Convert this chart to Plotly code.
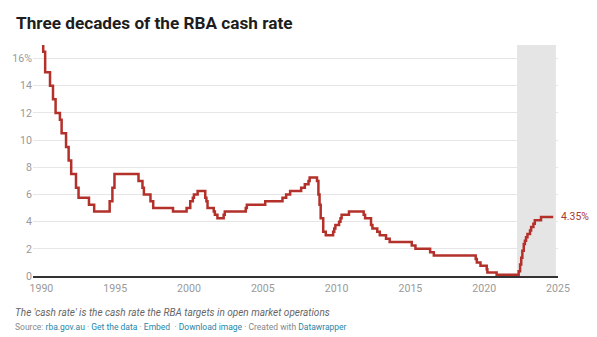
import plotly.graph_objects as go

# RBA cash rate target: date of each change and the new rate (%)
change_dates = [
    "1990-01-23", "1990-02-15", "1990-04-04", "1990-08-02", "1990-10-15", "1990-12-18",
    "1991-04-04", "1991-05-16", "1991-09-03", "1991-11-06", "1992-01-08", "1992-05-06",
    "1992-07-08", "1993-03-23", "1993-07-30", "1994-08-17", "1994-10-24", "1994-12-14",
    "1996-07-31", "1996-11-06", "1996-12-11", "1997-05-23", "1997-07-30", "1998-12-02",
    "1999-11-03", "2000-02-02", "2000-04-05", "2000-05-03", "2000-08-02", "2001-02-07",
    "2001-03-07", "2001-04-04", "2001-09-05", "2001-10-03", "2001-12-05", "2002-05-08",
    "2002-06-05", "2003-11-05", "2003-12-03", "2005-03-02", "2006-05-03", "2006-08-02",
    "2006-11-08", "2007-08-08", "2007-11-07", "2008-02-06", "2008-03-05", "2008-09-03",
    "2008-10-08", "2008-11-05", "2008-12-03", "2009-02-04", "2009-04-08", "2009-10-07",
    "2009-11-04", "2009-12-02", "2010-03-03", "2010-04-07", "2010-05-05", "2010-11-03",
    "2011-11-02", "2011-12-07", "2012-05-02", "2012-06-06", "2012-10-03", "2012-12-05",
    "2013-05-08", "2013-08-07", "2015-02-04", "2015-05-06", "2016-05-04", "2016-08-03",
    "2019-06-05", "2019-07-03", "2019-10-02", "2020-03-04", "2020-03-20", "2020-11-04",
    "2022-05-04", "2022-06-08", "2022-07-06", "2022-08-03", "2022-09-07", "2022-10-05",
    "2022-11-02", "2022-12-07", "2023-02-08", "2023-03-08", "2023-05-03", "2023-06-07",
    "2023-11-08", "2024-09-05",
]
cash_rate = [
    17.0, 16.5, 15.0, 14.0, 13.0, 12.0,
    11.5, 10.5, 9.5, 8.5, 7.5, 6.5,
    5.75, 5.25, 4.75, 5.5, 6.5, 7.5,
    7.0, 6.5, 6.0, 5.5, 5.0, 4.75,
    5.0, 5.5, 5.75, 6.0, 6.25, 5.75,
    5.5, 5.0, 4.75, 4.5, 4.25, 4.5,
    4.75, 5.0, 5.25, 5.5, 5.75, 6.0,
    6.25, 6.5, 6.75, 7.0, 7.25, 7.0,
    6.0, 5.25, 4.25, 3.25, 3.0, 3.25,
    3.5, 3.75, 4.0, 4.25, 4.5, 4.75,
    4.5, 4.25, 3.75, 3.5, 3.25, 3.0,
    2.75, 2.5, 2.25, 2.0, 1.75, 1.5,
    1.25, 1.0, 0.75, 0.5, 0.25, 0.10,
    0.35, 0.85, 1.35, 1.85, 2.35, 2.60,
    2.85, 3.10, 3.35, 3.60, 3.85, 4.10,
    4.35, 4.35,
]

year_ticks = [1990, 1995, 2000, 2005, 2010, 2015, 2020, 2025]
rate_ticks = [0, 2, 4, 6, 8, 10, 12, 14, 16]
rate_tick_labels = ["0", "2", "4", "6", "8", "10", "12", "14", "16%"]

highlight_start = "2022-03-25"
highlight_end = "2024-11-10"

W, H = 597, 337
ML, MR, MT, MB = 30, 39, 45, 61
PW, PH = W - ML - MR, H - MT - MB

def px_x(x):
    return (x - ML) / PW

def px_y(y):
    return (H - MB - y) / PH

RED = "#b3312a"
NARROW = "Liberation Sans Narrow, Roboto, sans-serif"

fig = go.Figure()
fig.add_trace(go.Scatter(
    x=change_dates, y=cash_rate, mode="lines", line_shape="hv",
    line=dict(color=RED, width=2.5), hoverinfo="skip", showlegend=False,
))

fig.add_shape(type="rect", xref="x", yref="paper",
              x0=highlight_start, x1=highlight_end, y0=0, y1=1,
              fillcolor="#e5e5e5", line_width=0, layer="between")

fig.add_annotation(x=px_x(559.5), y=cash_rate[-1], xref="paper", yref="y",
                   text=f"{cash_rate[-1]:.2f}%", showarrow=False,
                   xanchor="left", yanchor="middle",
                   font=dict(family=NARROW, size=10.4, color="#a8372d"))

fig.add_annotation(x=px_x(10.5), y=px_y(22.5), xref="paper", yref="paper",
                   text="<b>Three decades of the RBA cash rate</b>", showarrow=False,
                   xanchor="left", yanchor="middle",
                   font=dict(family="Roboto", size=17.2, color="#1d1d1d"))

fig.add_annotation(x=px_x(10), y=px_y(312.5), xref="paper", yref="paper",
                   text="<i>The 'cash rate' is the cash rate the RBA targets in open market operations</i>",
                   showarrow=False, xanchor="left", yanchor="middle",
                   font=dict(family=NARROW, size=10, color="#666666"))

LINK = "#1f87a8"
sep = " · "
source_text = (
    "Source: "
    f"<span style='color:{LINK}'>rba.gov.au</span>{sep}"
    f"<span style='color:{LINK}'>Get the data</span>{sep}"
    f"<span style='color:{LINK}'>Embed</span> {sep}"
    f"<span style='color:{LINK}'>Download image</span>{sep}"
    f"Created with <span style='color:{LINK}'>Datawrapper</span>"
)
fig.add_annotation(x=px_x(10), y=px_y(326.5), xref="paper", yref="paper",
                   text=source_text, showarrow=False, xanchor="left", yanchor="middle",
                   font=dict(family=NARROW, size=8.5, color="#888888"))

fig.update_layout(
    width=W, height=H,
    margin=dict(l=ML, r=MR, t=MT, b=MB),
    paper_bgcolor="white", plot_bgcolor="white",
    xaxis=dict(
        type="date", range=["1989-06-07", "2025-01-01"],
        tickvals=[f"{y}-01-01" for y in year_ticks],
        ticktext=[str(y) for y in year_ticks],
        showgrid=False, zeroline=False,
        showline=True, linecolor="#333333", linewidth=1.5,
        ticks="", ticklabelstandoff=2,
        tickfont=dict(family=NARROW, size=10.6, color="#9a9a9a"),
    ),
    yaxis=dict(
        range=[0, 17], tickvals=rate_ticks, ticktext=rate_tick_labels,
        showgrid=True, gridcolor="#e6e6e6", gridwidth=1,
        zeroline=False, showline=False, ticks="",
        tickfont=dict(family=NARROW, size=10.6, color="#9a9a9a"),
    ),
)

fig.write_html("out.html")
